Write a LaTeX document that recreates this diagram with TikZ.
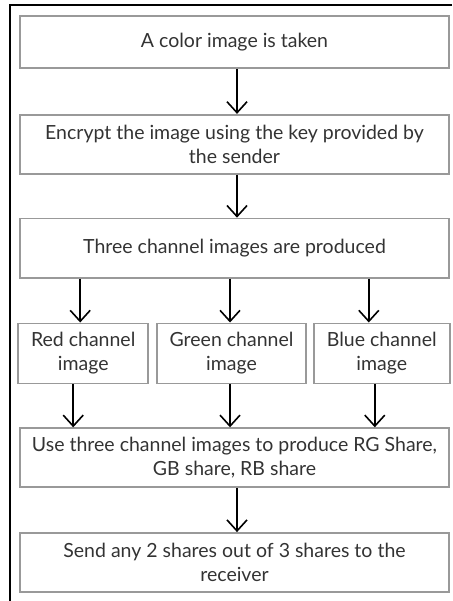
\documentclass[tikz,border=0pt]{standalone}
\usepackage{fontspec}
\setmainfont{Lato}
\usetikzlibrary{positioning,arrows.meta}

\begin{document}
\begin{tikzpicture}[
    x=1pt, y=1pt,
    >={Straight Barb[length=11pt,width=20pt,line width=1.6pt]},
    node distance=44pt and 7pt,
    box/.style={draw=gray!80, line width=1.8pt, minimum width=429pt, minimum height=59pt,
                align=center, inner sep=2pt, text=black!80,
                font=\fontsize{19.5}{24}\selectfont},
    chan/.style={box, minimum width=130pt, minimum height=60pt},
    arr/.style={->, line width=1.6pt},
  ]
    \useasboundingbox (0,0) rectangle (452,-601);
    % frame
    \draw[line width=1.5pt] (452,-5) -- (10,-5) -- (10,-601);

    \node[box, minimum height=52pt] (take) at (234.5,-42) {A color image is taken};
    \node[box, below=45pt of take]  (enc)  {Encrypt the image using the key provided by\\the sender};
    \node[box, below=43pt of enc]   (three) {Three channel images are produced};
    \node[chan, minimum width=149pt, below=44pt of three, xshift=-3pt] (green) {Green channel\\image};
    \node[chan, left=7pt of green]                      (red)  {Red channel\\image};
    \node[chan, minimum width=136pt, right=6pt of green] (blue) {Blue channel\\image};
    \node[box, below=43pt of green, xshift=3pt] (use)  {Use three channel images to produce RG Share,\\GB share, RB share};
    \node[box, below=44pt of use]   (send) {Send any 2 shares out of 3 shares to the\\receiver};

    \draw[arr] ([xshift=2.5pt]take.south) -- ([xshift=2.5pt]enc.north);
    \draw[arr] ([xshift=2.5pt]enc.south) -- ([xshift=2.5pt]three.north);
    \draw[arr] ([xshift=-3pt]red.north |- three.south) -- ([xshift=-3pt]red.north);
    \draw[arr] ([xshift=-1.5pt]green.north |- three.south) -- ([xshift=-1.5pt]green.north);
    \draw[arr] ([xshift=-13pt]blue.north |- three.south) -- ([xshift=-13pt]blue.north);
    \draw[arr] ([xshift=-10pt]red.south) -- ([xshift=-10pt]red.south |- use.north);
    \draw[arr] ([xshift=-1.5pt]green.south) -- ([xshift=-1.5pt]green.south |- use.north);
    \draw[arr] ([xshift=-7pt]blue.south) -- ([xshift=-7pt]blue.south |- use.north);
    \draw[arr] ([xshift=2.5pt]use.south) -- ([xshift=2.5pt]send.north);
\end{tikzpicture}
\end{document}
